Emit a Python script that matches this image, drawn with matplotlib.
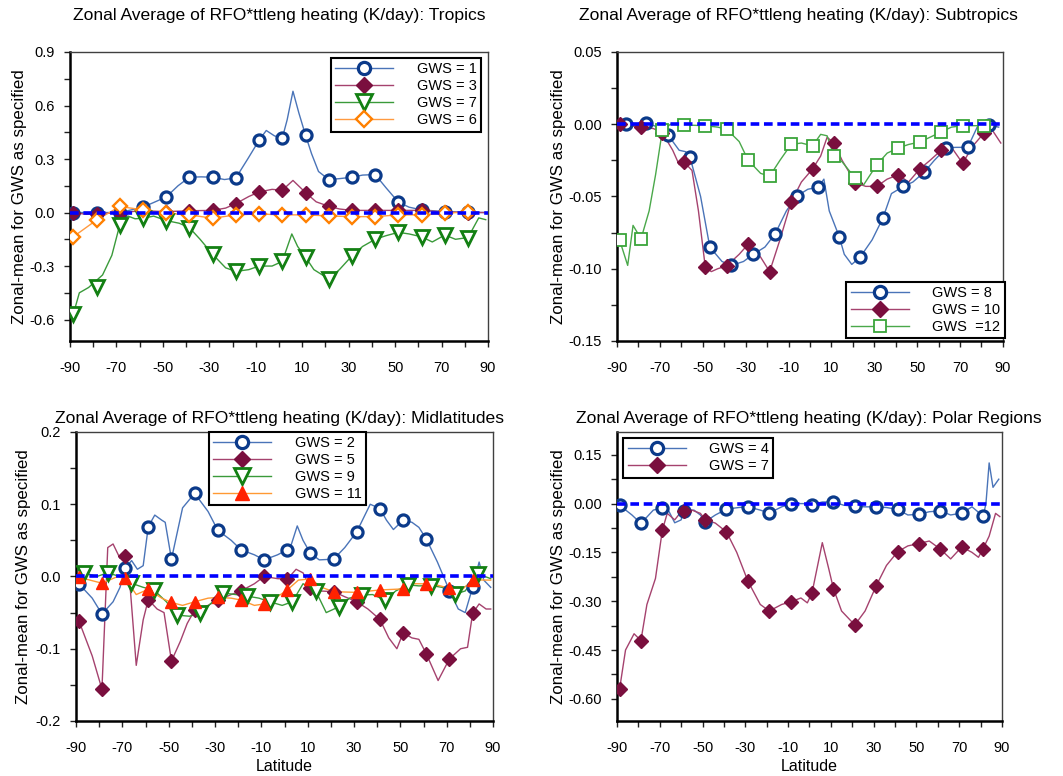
import matplotlib
matplotlib.use("Agg")
import matplotlib.pyplot as plt
from matplotlib.ticker import MultipleLocator, FixedLocator, FormatStrFormatter

plt.rcParams['font.family'] = ['Liberation Sans', 'DejaVu Sans']
plt.rcParams['axes.unicode_minus'] = False

# ---------------- data ----------------
TITLE = "Zonal Average of RFO*ttleng heating (K/day): "
YLABEL = "Zonal-mean for GWS as specified"
XTICKS = [-90, -70, -50, -30, -10, 10, 30, 50, 70, 90]

# Panel 1: Tropics
trop_mlat = [-88.6, -78.6, -68.6, -58.6, -48.6, -38.6, -28.6, -18.6, -8.6, 1.4, 11.4, 21.4, 31.4, 41.4, 51.4, 61.4, 71.4, 81.4]
g1_m = [0.0, 0.0, 0.0, 0.03, 0.087, 0.198, 0.198, 0.194, 0.405, 0.417, 0.434, 0.185, 0.198, 0.213, 0.058, 0.015, 0.005, 0.002]
g1_llat = [-88.6, -78.6, -68.6, -58.6, -48.6, -43.5, -38.6, -33.5, -28.6, -23.5, -18.6, -13.5, -8.6, -5.5, -2, 1.4, 3.5, 6, 8.5, 11.4, 14, 17, 21.4, 26, 31.4, 36, 41.4, 46, 51.4, 56, 61.4, 71.4, 81.4, 89]
g1_l = [0.0, 0.0, 0.0, 0.03, 0.087, 0.15, 0.198, 0.2, 0.198, 0.185, 0.194, 0.3, 0.405, 0.46, 0.43, 0.417, 0.52, 0.68, 0.56, 0.434, 0.33, 0.23, 0.185, 0.19, 0.198, 0.21, 0.213, 0.14, 0.058, 0.03, 0.015, 0.005, 0.002, 0.0]
g3_m = [0.0, -0.008, 0.0, 0.01, 0.005, 0.01, 0.012, 0.05, 0.115, 0.125, 0.112, 0.035, 0.012, 0.012, 0.012, 0.012, 0.003, 0.0]
g3_llat = [-88.6, -83, -78.6, -68.6, -58.6, -48.6, -38.6, -28.6, -23, -18.6, -13, -8.6, -3, 1.4, 6, 11.4, 16, 21.4, 26, 31.4, 41.4, 51.4, 61.4, 71.4, 81.4, 89]
g3_l = [0.0, -0.01, -0.008, 0.0, 0.01, 0.005, 0.01, 0.012, 0.025, 0.05, 0.09, 0.115, 0.13, 0.125, 0.18, 0.112, 0.06, 0.035, 0.02, 0.012, 0.012, 0.012, 0.012, 0.003, 0.0, 0.0]
g7_m = [-0.57, -0.415, -0.07, -0.032, -0.045, -0.085, -0.234, -0.33, -0.30, -0.274, -0.25, -0.372, -0.243, -0.15, -0.111, -0.136, -0.126, -0.14]
g7_llat = [-88.6, -86, -82, -76, -72, -68.6, -65, -62, -58.6, -54, -48.6, -43, -38.6, -34, -28.6, -23, -18.6, -13, -8.6, -3, 1.4, 5.5, 8, 11.4, 15, 21.4, 26, 31.4, 36, 41.4, 46, 51.4, 56, 61.4, 66, 71.4, 76, 81.4, 86, 89]
g7_l = [-0.57, -0.45, -0.42, -0.35, -0.24, -0.07, -0.02, -0.035, -0.032, -0.02, -0.045, -0.06, -0.085, -0.15, -0.234, -0.31, -0.33, -0.32, -0.30, -0.3, -0.274, -0.12, -0.19, -0.25, -0.32, -0.372, -0.32, -0.243, -0.19, -0.15, -0.13, -0.111, -0.12, -0.136, -0.165, -0.126, -0.15, -0.14, -0.03, -0.04]
g6_m = [-0.136, -0.042, 0.034, 0.015, -0.004, -0.013, -0.032, -0.013, -0.008, -0.013, -0.013, -0.019, -0.023, -0.023, -0.013, -0.013, -0.004, 0.004]

# Panel 2: Subtropics
sub8_mlat = [-86, -76.3, -66.2, -56, -46.7, -36.6, -26.4, -16.3, -6.2, 3.9, 13.7, 23.4, 34, 43.6, 53.4, 63.6, 73.6, 83.4]
g8_m = [0.0, 0.001, -0.0074, -0.0225, -0.085, -0.0977, -0.090, -0.076, -0.0498, -0.0435, -0.078, -0.092, -0.065, -0.043, -0.033, -0.0164, -0.016, -0.0005]
g8_llat = [-89, -86, -81, -76.3, -71, -66.2, -61, -58, -56, -51, -46.7, -41, -36.6, -31, -26.4, -21, -16.3, -11, -6.2, -1, 3.9, 6.5, 9, 13.7, 16, 19.5, 23.4, 29, 34, 38, 43.6, 48, 53.4, 58, 63.6, 68, 73.6, 78, 83.4, 88]
g8_l = [0.0, 0.0, -0.001, 0.001, -0.002, -0.0074, -0.018, -0.019, -0.0225, -0.05, -0.085, -0.095, -0.0977, -0.095, -0.090, -0.085, -0.076, -0.06, -0.0498, -0.045, -0.0435, -0.038, -0.06, -0.078, -0.09, -0.097, -0.092, -0.08, -0.065, -0.048, -0.043, -0.04, -0.033, -0.025, -0.0164, -0.016, -0.016, -0.002, -0.0005, -0.002]
sub_mlat = [-88.8, -78.8, -68.8, -58.8, -48.8, -38.8, -28.8, -18.8, -8.8, 1.2, 11.2, 21.2, 31.2, 41.2, 51.2, 61.2, 71.2, 81.2]
g10_m = [0.0, -0.002, -0.006, -0.026, -0.099, -0.098, -0.083, -0.102, -0.054, -0.031, -0.013, -0.0405, -0.043, -0.035, -0.031, -0.018, -0.027, -0.006]
g10_llat = [-88.8, -78.8, -73, -68.8, -64, -61, -58.8, -55, -52, -48.8, -46, -43, -38.8, -33, -28.8, -23, -18.8, -14, -8.8, -4, 1.2, 5, 8, 11.2, 15, 21.2, 26, 31.2, 36, 41.2, 46, 51.2, 56, 61.2, 66, 71.2, 76, 81.2, 85, 89]
g10_l = [0.0, -0.002, -0.003, -0.006, -0.018, -0.028, -0.026, -0.032, -0.06, -0.099, -0.102, -0.1, -0.098, -0.09, -0.083, -0.092, -0.102, -0.08, -0.054, -0.04, -0.031, -0.022, -0.009, -0.013, -0.025, -0.0405, -0.043, -0.043, -0.038, -0.035, -0.04, -0.031, -0.025, -0.018, -0.016, -0.027, -0.015, -0.006, -0.004, -0.013]
g12_m = [-0.080, -0.0794, -0.004, -0.0005, -0.001, -0.0035, -0.025, -0.036, -0.014, -0.015, -0.022, -0.0375, -0.028, -0.0164, -0.0123, -0.0053, -0.001, -0.001]
g12_llat = [-88.8, -85, -82.5, -80.5, -78.8, -75, -72, -68.8, -65, -58.8, -48.8, -43, -38.8, -33, -28.8, -23, -18.8, -14, -8.8, -4, 1.2, 5, 8, 11.2, 15, 21.2, 25, 31.2, 36, 41.2, 46, 51.2, 56, 61.2, 66, 71.2, 76, 81.2, 88]
g12_l = [-0.08, -0.0977, -0.07, -0.075, -0.0794, -0.06, -0.035, -0.004, 0.0, -0.0005, -0.001, -0.002, -0.0035, -0.012, -0.025, -0.034, -0.036, -0.025, -0.014, -0.013, -0.015, -0.007, -0.008, -0.022, -0.026, -0.0375, -0.042, -0.028, -0.02, -0.0164, -0.014, -0.0123, -0.009, -0.0053, -0.002, -0.001, -0.001, -0.001, 0.0]

# Panel 3: Midlatitudes
mid_mlat = [-88.8, -78.8, -68.8, -58.8, -48.8, -38.8, -28.8, -18.8, -8.8, 1.2, 11.2, 21.2, 31.2, 41.2, 51.2, 61.2, 71.2, 81.2]
g2_m = [-0.010, -0.052, 0.0116, 0.069, 0.024, 0.115, 0.064, 0.037, 0.023, 0.037, 0.032, 0.024, 0.062, 0.094, 0.078, 0.052, -0.0195, -0.015]
g2_llat = [-88.8, -83, -78.8, -74, -71, -68.8, -66, -63.5, -61, -58.8, -56, -53, -51.5, -48.8, -44, -38.8, -33, -28.8, -23, -18.8, -13, -8.8, -3, 1.2, 3, 5.5, 8, 11.2, 15, 21.2, 26, 31.2, 37, 41.2, 44, 47, 51.2, 55, 58, 61.2, 66, 71.2, 75, 78, 81.2, 84, 86, 89]
g2_l = [-0.01, -0.03, -0.052, -0.035, -0.015, 0.0116, 0.022, 0.01, 0.015, 0.069, 0.085, 0.078, 0.075, 0.024, 0.095, 0.115, 0.09, 0.064, 0.05, 0.037, 0.03, 0.023, 0.03, 0.037, 0.045, 0.07, 0.05, 0.032, 0.023, 0.024, 0.04, 0.062, 0.1, 0.094, 0.078, 0.065, 0.078, 0.075, 0.068, 0.052, 0.02, -0.0195, -0.045, -0.05, -0.015, 0.02, -0.005, -0.015]
g5_m = [-0.061, -0.156, 0.029, -0.032, -0.117, -0.0465, -0.0326, -0.020, 0.0, -0.0037, -0.016, -0.021, -0.035, -0.0595, -0.078, -0.107, -0.114, -0.051]
g5_llat = [-88.8, -83, -78.8, -76.3, -74, -71, -68.8, -66.5, -64, -61, -58.8, -55, -52, -48.8, -45, -42, -38.8, -33, -28.8, -23, -18.8, -13, -8.8, -3, 1.2, 5, 8, 11.2, 15, 21.2, 26, 31.2, 36, 41.2, 45, 48.5, 51.2, 55, 58, 61.2, 66.3, 71.2, 76, 79, 81.2, 84, 87, 89]
g5_l = [-0.061, -0.11, -0.156, 0.04, 0.045, 0.025, 0.029, -0.02, -0.123, -0.06, -0.032, -0.045, -0.05, -0.117, -0.09, -0.065, -0.0465, -0.04, -0.0326, -0.025, -0.02, -0.01, 0.0, -0.003, -0.0037, 0.01, 0.005, -0.016, -0.02, -0.021, -0.028, -0.035, -0.045, -0.0595, -0.085, -0.1, -0.078, -0.085, -0.087, -0.107, -0.144, -0.114, -0.1, -0.098, -0.051, -0.038, -0.045, -0.045]
g9_mlat = [-86.4, -76.4, -66.4, -56.4, -46.4, -36.4, -26.4, -16.4, -6.4, 3.4, 13.4, 23.4, 33.4, 43.4, 53.4, 63.4, 73.4, 83.4]
g9_m = [0.005, 0.005, -0.009, -0.0186, -0.0535, -0.051, -0.023, -0.027, -0.035, -0.035, -0.0195, -0.042, -0.0256, -0.0326, -0.0116, -0.0126, -0.0247, 0.0037]
g9_llat = [-89, -86.4, -81, -76.4, -71, -66.4, -61, -56.4, -51, -46.4, -41, -36.4, -31, -26.4, -21, -16.4, -11, -6.4, -1, 3.4, 8, 13.4, 18, 23.4, 28, 33.4, 38, 43.4, 48, 53.4, 58, 63.4, 68, 73.4, 78, 83.4, 89]
g9_l = [0.0, 0.005, 0.0, 0.005, 0.0, -0.009, -0.015, -0.0186, -0.035, -0.0535, -0.055, -0.051, -0.035, -0.023, -0.025, -0.027, -0.03, -0.035, -0.04, -0.035, -0.01, -0.0195, -0.05, -0.042, -0.03, -0.0256, -0.025, -0.0326, -0.02, -0.0116, -0.013, -0.0126, -0.015, -0.0247, -0.02, 0.0037, -0.003]
g11_m = [-0.001, -0.0093, -0.0023, -0.0177, -0.036, -0.035, -0.029, -0.0326, -0.038, -0.0186, -0.0033, -0.021, -0.022, -0.0186, -0.0172, -0.0102, -0.0163, -0.0047]
g11_llat = [-88.8, -78.8, -72, -68.8, -64, -58.8, -53, -48.8, -44, -38.8, -33, -28.8, -23, -18.8, -13, -8.8, -4, 1.2, 6, 11.2, 16, 21.2, 31.2, 41.2, 51.2, 56, 61.2, 66, 71.2, 76, 81.2, 89]
g11_l = [-0.001, -0.0093, 0.0, -0.0023, -0.025, -0.0177, -0.03, -0.036, -0.04, -0.035, -0.03, -0.029, -0.03, -0.0326, -0.04, -0.038, -0.03, -0.0186, -0.005, -0.0033, -0.015, -0.021, -0.022, -0.0186, -0.0172, -0.01, -0.0102, -0.012, -0.0163, -0.02, -0.0047, -0.005]

# Panel 4: Polar Regions
pol_mlat = [-88.8, -78.8, -68.8, -58.8, -48.8, -38.8, -28.8, -18.8, -8.8, 1.2, 11.2, 21.2, 31.2, 41.2, 51.2, 61.2, 71.2, 81.2]
g4_m = [-0.005, -0.061, -0.013, -0.0225, -0.056, -0.017, -0.010, -0.029, 0.0, -0.003, 0.005, -0.008, -0.010, -0.018, -0.033, -0.0225, -0.029, -0.039]
g4_llat = [-88.8, -83, -78.8, -73, -68.8, -66, -63, -60, -58.8, -54, -51, -48.8, -44, -38.8, -33, -28.8, -23, -18.8, -13, -8.8, -3, 1.2, 6, 11.2, 16, 21.2, 26, 31.2, 36, 41.2, 46, 51.2, 56, 61.2, 66, 71.2, 76, 81.2, 82.5, 84, 85.8, 88.5]
g4_l = [-0.005, -0.035, -0.061, -0.02, -0.013, -0.02, -0.059, -0.05, -0.0225, -0.02, -0.035, -0.056, -0.035, -0.017, -0.012, -0.01, -0.02, -0.029, -0.01, 0.0, 0.0, -0.003, 0.005, 0.005, -0.005, -0.008, -0.01, -0.01, -0.012, -0.018, -0.035, -0.033, -0.025, -0.0225, -0.035, -0.029, -0.01, -0.039, 0.0, 0.125, 0.05, 0.075]
p7_m = [-0.571, -0.421, -0.082, -0.0235, -0.049, -0.087, -0.238, -0.330, -0.302, -0.274, -0.261, -0.373, -0.2525, -0.148, -0.1227, -0.140, -0.133, -0.138]
p7_llat = [-88.8, -86, -82, -78.8, -76, -72, -68.8, -66.5, -63, -60, -55, -51, -48.8, -44, -38.8, -34, -28.8, -23, -18.8, -13, -8.8, -4, -1, 1.2, 6, 9, 11.2, 15, 21.2, 26, 31.2, 36, 41.2, 46, 51.2, 56, 61.2, 66, 71.2, 76, 79, 81.2, 84, 87, 89]
p7_l = [-0.571, -0.45, -0.4, -0.421, -0.31, -0.23, -0.082, -0.03, -0.05, -0.025, -0.02, -0.03, -0.049, -0.06, -0.087, -0.15, -0.238, -0.31, -0.33, -0.31, -0.302, -0.29, -0.305, -0.274, -0.12, -0.2, -0.261, -0.33, -0.373, -0.33, -0.2525, -0.19, -0.148, -0.13, -0.1227, -0.115, -0.14, -0.17, -0.133, -0.15, -0.165, -0.138, -0.1, -0.03, -0.04]

# ---------------- styles ----------------
ST = {
    'circ':  dict(marker='o', mfc='white', mec='#0b3a8a', mew=2.3, ms=8, lc='#4a74b8'),
    'dia':   dict(marker='D', mfc='#7a0f3e', mec='#7a0f3e', mew=1, ms=7, lc='#a5426e'),
    'vtri':  dict(marker='v', mfc='white', mec='#138013', mew=2.0, ms=10, lc='#3a9a3a'),
    'odia':  dict(marker='D', mfc='white', mec='#ff8000', mew=1.7, ms=7.5, lc='#ff9a40'),
    'sq':    dict(marker='s', mfc='white', mec='#3aa53a', mew=1.3, ms=8, lc='#4aa84a'),
    'rtri':  dict(marker='^', mfc='#ff2200', mec='#ff2200', mew=1, ms=9, lc='#ff9933'),
}

def series(ax, llat, lval, mlat, mval, key, label):
    s = ST[key]
    ax.plot(llat, lval, color=s['lc'], lw=1.0, zorder=2)
    ax.plot(mlat, mval, ls='none', marker=s['marker'], mfc=s['mfc'], mec=s['mec'],
            mew=s['mew'], ms=s['ms'], zorder=3)
    h, = ax.plot([], [], color=s['lc'], lw=1.0, marker=s['marker'], mfc=s['mfc'],
                 mec=s['mec'], mew=s['mew'], ms=s['ms'] * 1.1, label=label)
    return h

fig = plt.figure(figsize=(10.63, 7.76), dpi=100)
FS = 10.5
TFS = 12.6
YFS = 12.2
XFS = 11.5

def setup(ax, ylim, ymaj, ymin, fmt, title, tpos, ylab_x, xlabel):
    ax.set_xlim(-90, 90)
    ax.set_ylim(*ylim)
    ax.xaxis.set_major_locator(FixedLocator(XTICKS))
    ax.xaxis.set_minor_locator(MultipleLocator(10))
    ax.yaxis.set_major_locator(MultipleLocator(ymaj))
    ax.yaxis.set_minor_locator(MultipleLocator(ymin))
    ax.yaxis.set_major_formatter(FormatStrFormatter(fmt))
    ax.tick_params(which='both', direction='out', length=4, width=1, labelsize=FS, color='#202020')
    ax.tick_params(axis='x', pad=10.5)
    ax.tick_params(axis='y', pad=7)
    for side in ('left', 'bottom'):
        ax.spines[side].set_linewidth(1.8)
        ax.spines[side].set_color('black')
    for side in ('top', 'right'):
        ax.spines[side].set_linewidth(1.0)
        ax.spines[side].set_color('#404040')
    ax.axhline(0, color='#0000ff', lw=2.6, ls=(0, (2.4, 1.3)), zorder=4)
    ax.text(tpos[0], tpos[1], title, transform=ax.transAxes, ha='center', va='center', fontsize=TFS)
    ax.set_ylabel(YLABEL, fontsize=YFS)
    ax.yaxis.set_label_coords(ylab_x, 0.5)
    if xlabel:
        ax.set_xlabel('Latitude', fontsize=XFS, va='center')
        ax.xaxis.set_label_coords(0.5, -0.157)

def legend(ax, handles, loc, anchor):
    lg = ax.legend(handles=handles, loc=loc, bbox_to_anchor=anchor, fontsize=FS,
                   frameon=True, fancybox=False, edgecolor='black', framealpha=1,
                   handlelength=4.0, handletextpad=1.6, labelspacing=0.2,
                   borderpad=0.3, borderaxespad=0)
    lg.get_frame().set_linewidth(1.5)
    lg.set_zorder(10)

# Panel 1
ax1 = fig.add_axes([0.0659, 0.5606, 0.3932, 0.3724])
h = [series(ax1, g1_llat, g1_l, trop_mlat, g1_m, 'circ', 'GWS = 1'),
     series(ax1, g3_llat, g3_l, trop_mlat, g3_m, 'dia', 'GWS = 3'),
     series(ax1, g7_llat, g7_l, trop_mlat, g7_m, 'vtri', 'GWS = 7'),
     series(ax1, trop_mlat, g6_m, trop_mlat, g6_m, 'odia', 'GWS = 6')]
setup(ax1, (-0.72, 0.9), 0.3, 0.15, '%.1f', TITLE + 'Tropics', (0.5, 1.128), -0.103, False)
legend(ax1, h, 'upper right', (0.983, 0.979))

# Panel 2
ax2 = fig.add_axes([0.5804, 0.5606, 0.3631, 0.3724])
h = [series(ax2, g8_llat, g8_l, sub8_mlat, g8_m, 'circ', 'GWS = 8'),
     series(ax2, g10_llat, g10_l, sub_mlat, g10_m, 'dia', 'GWS = 10'),
     series(ax2, g12_llat, g12_l, sub_mlat, g12_m, 'sq', 'GWS  =12')]
setup(ax2, (-0.15, 0.05), 0.05, 0.025, '%.2f', TITLE + 'Subtropics', (0.469, 1.128), -0.132, False)
legend(ax2, h, 'lower right', (1.005, 0.01))

# Panel 3
ax3 = fig.add_axes([0.0715, 0.0709, 0.3923, 0.3724])
h = [series(ax3, g2_llat, g2_l, mid_mlat, g2_m, 'circ', 'GWS = 2'),
     series(ax3, g5_llat, g5_l, mid_mlat, g5_m, 'dia', 'GWS = 5'),
     series(ax3, g9_llat, g9_l, g9_mlat, g9_m, 'vtri', 'GWS = 9'),
     series(ax3, g11_llat, g11_l, mid_mlat, g11_m, 'rtri', 'GWS = 11')]
setup(ax3, (-0.2, 0.2), 0.1, 0.05, '%.1f', TITLE + 'Midlatitudes', (0.487, 1.047), -0.108, True)
legend(ax3, h, 'upper center', (0.507, 1.0))

# Panel 4
ax4 = fig.add_axes([0.5804, 0.0709, 0.3622, 0.3724])
h = [series(ax4, g4_llat, g4_l, pol_mlat, g4_m, 'circ', 'GWS = 4'),
     series(ax4, p7_llat, p7_l, pol_mlat, p7_m, 'dia', 'GWS = 7')]
setup(ax4, (-0.668, 0.22), 0.15, 0.075, '%.2f', TITLE + 'Polar Regions', (0.499, 1.048), -0.1325, True)
legend(ax4, h, 'upper left', (0.016, 0.979))

fig.savefig('out.png', dpi=100)
